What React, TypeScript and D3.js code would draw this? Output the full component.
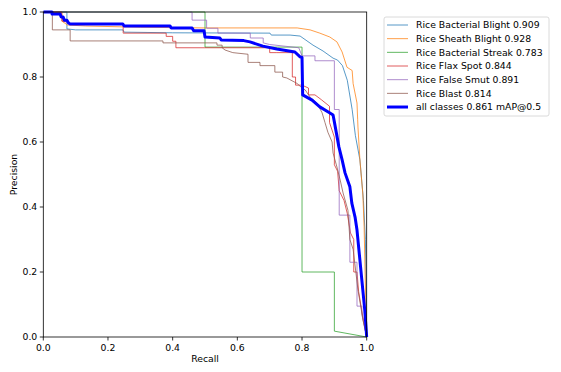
import React from "react";
import * as d3 from "d3";

type Pt = [number, number];

const bacterialBlight: Pt[] = [[0,1],[0.073,1],[0.073,0.948],[0.1,0.945],[0.246,0.945],[0.25,0.938],[0.4,0.936],[0.701,0.935],[0.705,0.929],[0.763,0.929],[0.794,0.926],[0.834,0.898],[0.865,0.88],[0.896,0.858],[0.91,0.852],[0.925,0.835],[0.94,0.79],[0.955,0.7],[0.965,0.62],[0.979,0.545],[0.99,0.42],[0.996,0.3],[0.998,0.175],[1,0]];
const sheathBlight: Pt[] = [[0,1],[0.057,1],[0.06,0.97],[0.075,0.96],[0.13,0.957],[0.3,0.953],[0.5,0.951],[0.785,0.951],[0.825,0.945],[0.855,0.935],[0.886,0.923],[0.908,0.908],[0.924,0.877],[0.939,0.83],[0.955,0.82],[0.958,0.78],[0.97,0.72],[0.972,0.67],[0.973,0.646],[0.979,0.545],[0.988,0.44],[0.992,0.34],[0.995,0.2],[1,0]];
const bacterialStreak: Pt[] = [[0,1],[0.5,1],[0.5,0.892],[0.8,0.892],[0.8,0.2],[0.9,0.2],[0.9,0.018],[1,0]];
const flaxSpot: Pt[] = [[0,1],[0.057,1],[0.057,0.972],[0.08,0.968],[0.08,0.963],[0.247,0.963],[0.247,0.935],[0.38,0.935],[0.38,0.925],[0.4,0.925],[0.4,0.91],[0.41,0.91],[0.41,0.89],[0.7,0.89],[0.7,0.875],[0.72,0.875],[0.77,0.875],[0.77,0.8],[0.78,0.8],[0.78,0.775],[0.8,0.775],[0.82,0.766],[0.82,0.745],[0.84,0.745],[0.86,0.73],[0.885,0.71],[0.885,0.66],[0.9,0.615],[0.9,0.53],[0.91,0.51],[0.915,0.45],[0.93,0.42],[0.94,0.38],[0.95,0.32],[0.96,0.3],[0.96,0.2],[0.97,0.2],[0.975,0.14],[0.99,0.05],[1,0]];
const falseSmut: Pt[] = [[0,1],[0.46,1],[0.46,0.975],[0.505,0.975],[0.505,0.95],[0.54,0.95],[0.54,0.935],[0.64,0.935],[0.64,0.92],[0.68,0.92],[0.68,0.905],[0.7,0.9],[0.79,0.89],[0.8,0.865],[0.84,0.865],[0.84,0.85],[0.9,0.85],[0.9,0.7],[0.915,0.7],[0.915,0.375],[0.948,0.375],[0.948,0.23],[0.97,0.23],[0.97,0.095],[0.985,0.095],[0.985,0.07],[1,0]];
const blast: Pt[] = [[0,1],[0.028,1],[0.028,0.945],[0.083,0.945],[0.083,0.911],[0.37,0.911],[0.37,0.905],[0.537,0.905],[0.537,0.898],[0.553,0.898],[0.553,0.89],[0.562,0.883],[0.586,0.875],[0.633,0.87],[0.633,0.845],[0.67,0.845],[0.67,0.835],[0.716,0.835],[0.716,0.815],[0.74,0.815],[0.74,0.8],[0.753,0.797],[0.785,0.78],[0.8,0.766],[0.81,0.76],[0.825,0.738],[0.846,0.72],[0.862,0.69],[0.871,0.66],[0.88,0.63],[0.893,0.6],[0.896,0.566],[0.908,0.523],[0.918,0.483],[0.927,0.443],[0.942,0.39],[0.948,0.3],[0.958,0.27],[0.973,0.145],[0.989,0.05],[1,0]];
const allClasses: Pt[] = [[0,1],[0.027,1],[0.027,0.994],[0.052,0.994],[0.055,0.985],[0.061,0.985],[0.065,0.975],[0.073,0.975],[0.078,0.966],[0.083,0.963],[0.246,0.963],[0.25,0.957],[0.392,0.957],[0.395,0.951],[0.46,0.951],[0.465,0.942],[0.497,0.942],[0.5,0.923],[0.546,0.92],[0.55,0.914],[0.62,0.912],[0.639,0.908],[0.679,0.895],[0.722,0.886],[0.778,0.877],[0.794,0.862],[0.8,0.86],[0.802,0.745],[0.831,0.729],[0.855,0.708],[0.885,0.69],[0.896,0.683],[0.9,0.662],[0.914,0.585],[0.924,0.545],[0.933,0.505],[0.948,0.462],[0.954,0.412],[0.964,0.369],[0.97,0.329],[0.985,0.175],[0.994,0.083],[1,0]];

const seriesLabels = [
  "Rice Bacterial Blight 0.909",
  "Rice Sheath Blight 0.928",
  "Rice Bacterial Streak 0.783",
  "Rice Flax Spot 0.844",
  "Rice False Smut 0.891",
  "Rice Blast 0.814",
  "all classes 0.861 mAP@0.5",
];
const seriesData = [bacterialBlight, sheathBlight, bacterialStreak, flaxSpot, falseSmut, blast, allClasses];
const seriesColors = ["#1f77b4", "#ff7f0e", "#2ca02c", "#d62728", "#9467bd", "#8c564b", "#0000ff"];
const tickValues = [0, 0.2, 0.4, 0.6, 0.8, 1.0];

const FONT = "DejaVu Sans, sans-serif";

export default function App() {
  const x = d3.scaleLinear().domain([0, 1]).range([43.3, 366.7]);
  const y = d3.scaleLinear().domain([0, 1]).range([337, 12]);
  const line = d3.line<Pt>().x((d) => x(d[0])).y((d) => y(d[1]));
  const fs = 9.3;
  const legX = 384, legY = 17, legW = 165, legH = 99;
  return (
    <svg width={561} height={372} style={{ position: "absolute", left: 0, top: 0, background: "#fff" }}>
      <rect x={0} y={0} width={561} height={372} fill="#fff" />
      <defs>
        <clipPath id="plotclip">
          <rect x={x(0)} y={y(1) - 2} width={x(1) - x(0) + 2} height={y(0) - y(1) + 4} />
        </clipPath>
      </defs>
      <g clipPath="url(#plotclip)">
        {seriesData.map((d, i) => (
          <path
            key={i}
            d={line(d) || ""}
            fill="none"
            stroke={seriesColors[i]}
            strokeWidth={i === 6 ? 3 : 1}
            strokeOpacity={i === 6 ? 1 : 0.75}
            strokeLinejoin="round"
          />
        ))}
      </g>
      <rect x={x(0)} y={y(1)} width={x(1) - x(0)} height={y(0) - y(1)} fill="none" stroke="#000" strokeWidth={0.8} />
      {tickValues.map((t) => (
        <g key={"x" + t}>
          <line x1={x(t)} x2={x(t)} y1={y(0)} y2={y(0) + 3.5} stroke="#000" strokeWidth={0.8} />
          <text x={x(t)} y={y(0) + 13.5} fontSize={fs} fontFamily={FONT} textAnchor="middle" fill="#000">
            {t.toFixed(1)}
          </text>
        </g>
      ))}
      {tickValues.map((t) => (
        <g key={"y" + t}>
          <line x1={x(0) - 3.5} x2={x(0)} y1={y(t)} y2={y(t)} stroke="#000" strokeWidth={0.8} />
          <text x={x(0) - 6} y={y(t) + 3.4} fontSize={fs} fontFamily={FONT} textAnchor="end" fill="#000">
            {t.toFixed(1)}
          </text>
        </g>
      ))}
      <text x={(x(0) + x(1)) / 2} y={362} fontSize={fs} fontFamily={FONT} textAnchor="middle" fill="#000">
        Recall
      </text>
      <text
        transform={`translate(17,${(y(0) + y(1)) / 2}) rotate(-90)`}
        fontSize={fs}
        fontFamily={FONT}
        textAnchor="middle"
        fill="#000"
      >
        Precision
      </text>
      <rect x={legX} y={legY} width={legW} height={legH} rx={2} fill="#fff" fillOpacity={0.8} stroke="#d0d0d0" strokeWidth={0.8} />
      {seriesLabels.map((lab, i) => {
        const cy = 25 + i * 13.67;
        return (
          <g key={lab}>
            <line x1={387} x2={408} y1={cy} y2={cy} stroke={seriesColors[i]} strokeWidth={i === 6 ? 3 : 1} strokeOpacity={i === 6 ? 1 : 0.75} />
            <text x={416} y={cy + 3.4} fontSize={fs} fontFamily={FONT} fill="#000">
              {lab}
            </text>
          </g>
        );
      })}
    </svg>
  );
}
